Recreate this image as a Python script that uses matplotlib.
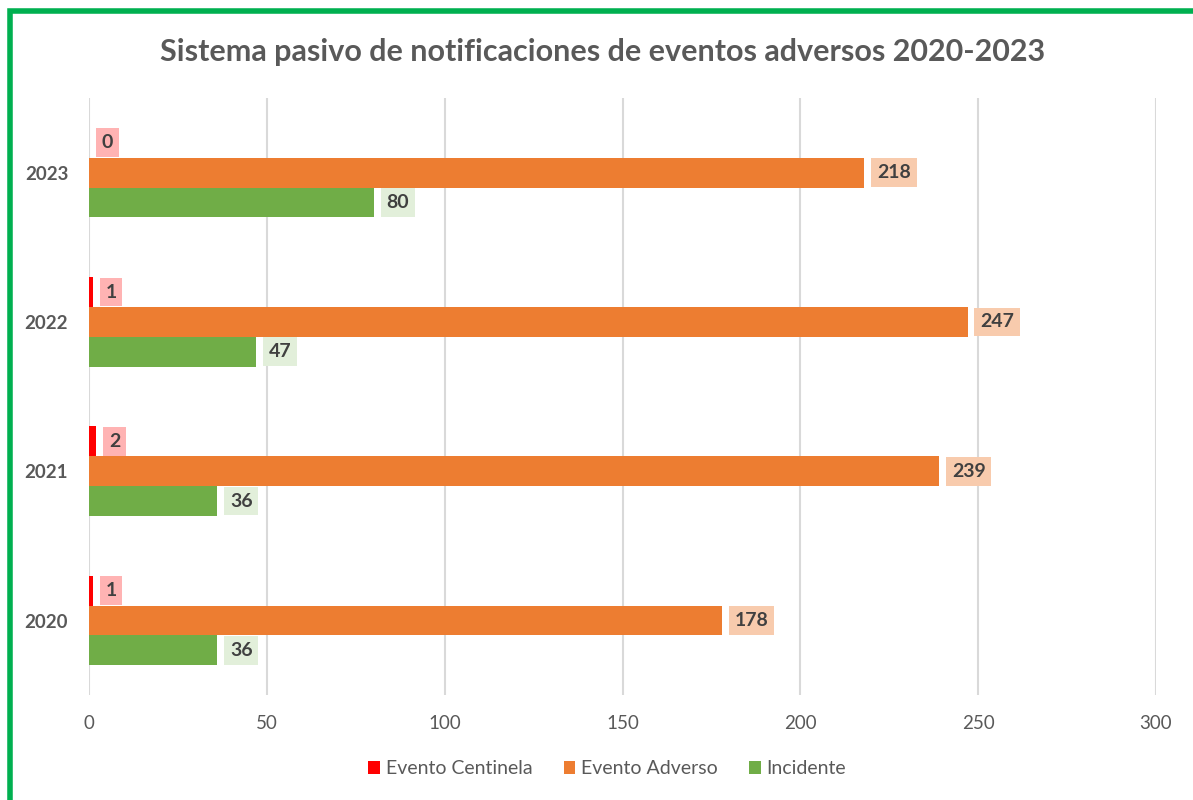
import numpy as np
import matplotlib.pyplot as plt
from matplotlib.patches import Rectangle

# datos
anyos = ['2020', '2021', '2022', '2023']
centinela = [1, 2, 1, 0]
adverso = [178, 239, 247, 218]
incidente = [36, 36, 47, 80]

series = ['Evento Centinela', 'Evento Adverso', 'Incidente']
colores = ['#FF0000', '#ED7D31', '#70AD47']
colores_caja = ['#FFB3B3', '#F8CBAD', '#E2EFDA']

plt.rcParams['font.family'] = ['Lato', 'DejaVu Sans']

fig = plt.figure(figsize=(11.93, 8), dpi=100)
ax = fig.add_axes([0.0746, 0.131, 0.8944, 0.7465])

y = np.arange(len(anyos))
alto = 0.2
offsets = [alto, 0, -alto]
valores = [centinela, adverso, incidente]

for vals, off, col, colcaja, nombre in zip(valores, offsets, colores, colores_caja, series):
    ax.barh(y + off, vals, height=alto, color=col, label=nombre)
    for yi, v in zip(y, vals):
        ax.text(v + 3.6, yi + off, str(v), ha='left', va='center',
                fontsize=14, fontweight='bold', color='#404040',
                bbox=dict(boxstyle='square,pad=0.3', fc=colcaja, ec='none'))

ax.set_xlim(0, 300)
ax.set_ylim(-0.5, 3.5)
ax.set_xticks(np.arange(0, 301, 50))
ax.set_yticks(y)
ax.set_yticklabels(anyos, fontweight='bold')
ax.tick_params(axis='both', length=0, labelsize=13.5, colors='#595959')
ax.tick_params(axis='x', pad=14)
ax.tick_params(axis='y', pad=15)
ax.grid(axis='x', color='#D9D9D9', linewidth=1.5)
ax.set_axisbelow(True)
for s in ax.spines.values():
    s.set_visible(False)

fig.suptitle('Sistema pasivo de notificaciones de eventos adversos 2020-2023',
             x=0.505, y=0.952, fontsize=22, fontweight='bold', color='#595959')

leg = fig.legend(loc='center', bbox_to_anchor=(0.509, 0.039), ncol=3, frameon=False,
                 fontsize=14, handlelength=0.6, handleheight=0.6, handletextpad=0.3,
                 columnspacing=1.6)
for t in leg.get_texts():
    t.set_color('#595959')

# marco verde
fig.patches.append(Rectangle((9.5 / 1193, -0.1), 1.2, 1.1 - 10.5 / 800,
                             transform=fig.transFigure, fill=False,
                             edgecolor='#00B050', linewidth=4, zorder=10))

fig.savefig('out.png', dpi=100)
